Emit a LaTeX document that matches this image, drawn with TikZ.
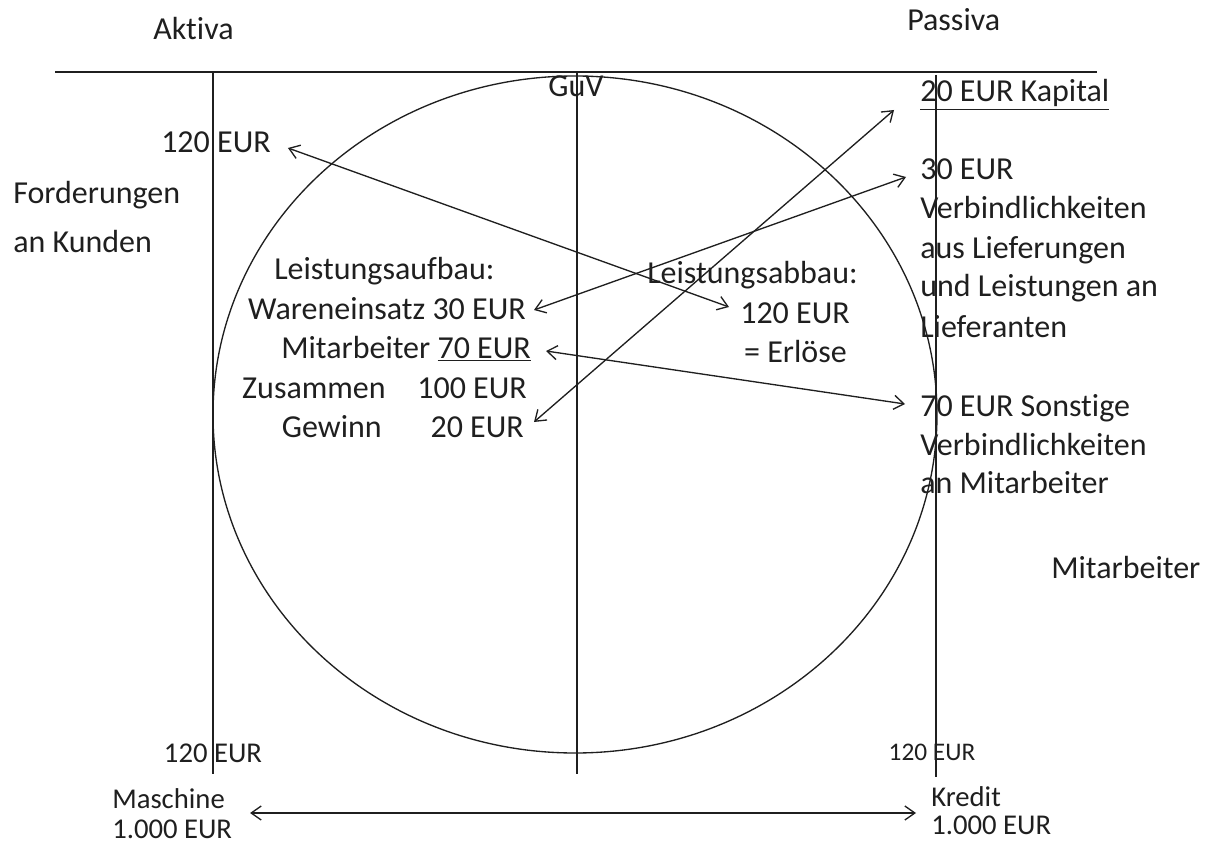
\documentclass[tikz,border=0pt]{standalone}
\usepackage{fontspec}
\setmainfont{Carlito}[Ligatures={NoCommon}]
\usetikzlibrary{arrows.meta,calc}

\newcommand{\bigtxt}{\fontsize{24}{29}\selectfont}
\newcommand{\smalltxt}{\fontsize{21.5}{26}\selectfont}

\begin{document}
\begin{tikzpicture}[x=0.75pt,y=0.75pt,yscale=-1,xscale=1,
  txt/.style={inner sep=0.75pt,font=\bigtxt,text=black!88},
  smtxt/.style={inner sep=0.75pt,font=\smalltxt,text=black!88},
  rule/.style={line width=1pt,draw=black!88},
  biarrow/.style={line width=1pt,draw=black!88,{Straight Barb[length=7.5pt,width=10.5pt]}-{Straight Barb[length=7.5pt,width=10.5pt]}}]
\useasboundingbox (0,0) rectangle (1217,845);

%Straight Lines (T-Konto)
\draw [rule] (55,72) -- (1097,72) ;
\draw [rule] (213,72) -- (213,774) ;
\draw [rule] (577,72) -- (577,774) ;
\draw [rule] (936,75) -- (936,777) ;
%Ellipse
\draw [rule] (575,414.5) ellipse [x radius=362, y radius=338.5] ;

% Text Node
\draw (152,40) node [anchor=base west][txt] (aktiva) {Aktiva};
% Text Node
\draw (906,31) node [anchor=base west][txt] (passiva) {Passiva};
% Text Node
\draw (576,97) node [anchor=base][txt] (guv) {GuV};
% Text Node
\draw (160,153) node [anchor=base west][txt] (ford120) {120 EUR};
% Text Node
\draw (12,204) node [anchor=base west][txt] (ford) {Forderungen};
\draw (12,252) node [anchor=base west][txt] (kunden) {an Kunden};

% Text Node
\draw (273,279) node [anchor=base west][txt] (aufbau) {Leistungsaufbau:};
\draw (527,319) node [anchor=base east][txt] (ware) {Wareneinsatz 30 EUR};
\draw (532,358) node [anchor=base east][txt] (mitarb70) {Mitarbeiter \underline{70 EUR}};
\draw (387,398) node [anchor=base east][txt] (zus) {Zusammen};
\draw (528,398) node [anchor=base east][txt] (zus100) {100 EUR};
\draw (383,437) node [anchor=base east][txt] (gew) {Gewinn};
\draw (525,437) node [anchor=base east][txt] (gew20) {20 EUR};

% Text Node
\draw (646,283) node [anchor=base west][txt] (abbau) {Leistungsabbau:};
\draw (739,323) node [anchor=base west][txt] (erl120) {120 EUR};
\draw (848,362) node [anchor=base east][txt] (erl) {= Erlöse};

% Text Node
\draw (919,102) node [anchor=base west][txt] (kapital) {\underline{20 EUR Kapital}};
\draw (919,180) node [anchor=base west][txt] (verb30) {30 EUR};
\draw (919,219) node [anchor=base west][txt] (verb30a) {Verbindlichkeiten};
\draw (919,258) node [anchor=base west][txt] (verb30b) {aus Lieferungen};
\draw (919,296) node [anchor=base west][txt] (verb30c) {und Leistungen an};
\draw (919,337) node [anchor=base west][txt] (verb30d) {Lieferanten};
\draw (919,416) node [anchor=base west][txt] (sonst70) {70 EUR Sonstige};
\draw (919,455) node [anchor=base west][txt] (sonst70a) {Verbindlichkeiten};
\draw (919,493) node [anchor=base west][txt] (sonst70b) {an Mitarbeiter};
\draw (1050,578) node [anchor=base west][txt] (mitarb) {Mitarbeiter};

% Text Node
\draw (213,762) node [anchor=base][smtxt] (akt120) {120 EUR};
\draw (932,760) node [anchor=base][smtxt,font=\fontsize{19}{23}\selectfont] (pas120) {120 EUR};
\draw (111,808) node [anchor=base west][smtxt] (masch) {Maschine};
\draw (111,838) node [anchor=base west][smtxt] (masch1000) {1.000 EUR};
\draw (930,806) node [anchor=base west][smtxt] (kredit) {Kredit};
\draw (930,834) node [anchor=base west][smtxt] (kredit1000) {1.000 EUR};

%Arrows
\draw [biarrow] ($(ford120.base east)+(16,-5)$) -- ($(erl120.base west)+(-10,-16)$) ;
\draw [biarrow] ($(ware.base east)+(7,-9)$) -- ($(verb30.base west)+(-13,-3)$) ;
\draw [biarrow] ($(mitarb70.base east)+(14,-7)$) -- ($(sonst70.base west)+(-14,-12)$) ;
\draw [biarrow] ($(gew20.base east)+(9,-15)$) -- ($(kapital.base west)+(-25,8)$) ;
\draw [biarrow] ($(masch.base east)+(24,5)$) -- ($(kredit.base west)+(-14,7)$) ;

\end{tikzpicture}
\end{document}
